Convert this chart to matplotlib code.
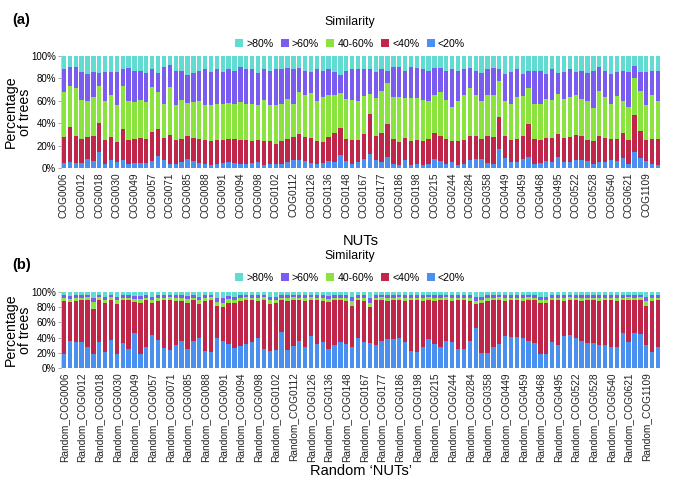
import numpy as np
import matplotlib
matplotlib.use("Agg")
import matplotlib.pyplot as plt

plt.rcParams["font.family"] = ["Liberation Sans", "DejaVu Sans"]

# ------------------------------------------------------------
# Data (cumulative % of trees below each similarity bound)
# ------------------------------------------------------------
nut_labels = ["COG0006", "COG0012", "COG0018", "COG0030", "COG0049", "COG0057",
              "COG0071", "COG0085", "COG0088", "COG0091", "COG0094", "COG0098",
              "COG0102", "COG0112", "COG0126", "COG0136", "COG0148", "COG0167",
              "COG0177", "COG0186", "COG0198", "COG0215", "COG0244", "COG0284",
              "COG0358", "COG0449", "COG0459", "COG0468", "COG0495", "COG0522",
              "COG0528", "COG0540", "COG0621", "COG1109"]
random_labels = ["Random_" + n for n in nut_labels]

legend_labels = [">80%", ">60%", "40-60%", "<40%", "<20%"]

# panel (a): NUTs
a_lt20 = [4.5, 5.4, 4.5, 4.8, 7.7, 6.5, 14, 4, 7, 5.4, 7, 4, 4.5, 4.5, 4.5, 6, 10.7, 7, 4, 4,
          5.4, 7.7, 6, 4.5, 4, 3, 4, 4.5, 5.4, 4.5, 4, 4, 4.5, 5.4, 3, 4, 4, 4, 5.4, 7,
          7, 6, 4.5, 4, 4.5, 6, 5.4, 12, 6, 4, 5, 7.7, 12.8, 7, 5.4, 9.8, 4, 3, 7, 3,
          4, 3, 4, 7.7, 6, 4, 5.4, 3, 4, 7, 7.7, 7.7, 4.8, 4, 17, 9, 5.4, 5.4, 7.7, 9.8,
          4, 4.8, 6, 5.4, 9.8, 5.4, 5.4, 7, 7, 6, 4, 5.4, 5.4, 7, 6, 9, 4, 14.3, 9, 6,
          4, 3]
a_lt40 = [28, 36.5, 29, 25.6, 27.7, 28.6, 40, 24.7, 27.7, 23, 34.5, 24.7, 25.6, 26.8, 25.6, 32, 35, 26.8, 29.8, 24.7,
          26, 28.6, 26.8, 25.6, 24.7, 24, 24.7, 24.7, 25.6, 25.6, 24.7, 24.7, 24, 24.7, 24, 24, 21.7, 24, 26, 27.7,
          30.7, 27.7, 26.8, 24, 23, 27.7, 31, 36, 25.6, 24.7, 25, 30.7, 48.5, 28.6, 31.5, 39.6, 25.6, 23, 26.8, 24,
          24.7, 24, 25.6, 31.5, 29, 25.6, 24, 24, 24.7, 28.6, 29, 25.6, 29, 27.7, 45.5, 28.6, 24.7, 25.6, 29, 39.6,
          25.6, 24.7, 26.8, 26.8, 30.7, 26.8, 27.7, 29.8, 29, 24.7, 24, 29, 26.8, 26, 26, 31.5, 24.7, 47.6, 32.7, 24.7,
          25.6, 25.6]
a_lt60 = [68, 73, 71, 61, 60, 63, 73, 60, 65, 56, 73, 59.5, 59, 60.5, 59, 72, 68, 57, 72, 56,
          60.5, 58, 59, 59.5, 56, 56.5, 57.4, 57.4, 58, 57.4, 59, 57.4, 57.4, 56.5, 60.5, 56.5, 56.5, 57.4, 62, 57.4,
          68, 65.5, 67, 59.5, 63, 65, 65.5, 67, 62, 61, 60, 64, 66, 62.5, 68.5, 76, 63, 63, 62.5, 62.5,
          62.5, 61, 59.5, 65.5, 68, 61, 54.5, 59.5, 65, 71.4, 65.5, 59.5, 65.5, 65.5, 77.4, 59.5, 57.4, 63, 64, 71.4,
          57.4, 57.4, 62, 61, 66, 62, 63, 65.5, 62, 59.5, 53.6, 69, 63, 57.4, 64, 59.5, 54.5, 80, 68.5, 56.5,
          65.5, 59.5]
a_lt80 = [88, 90, 90, 86, 84, 86, 85, 86, 86, 86, 88.7, 89, 87, 87, 85, 88.7, 85, 90, 92, 87,
          87, 83, 85, 87, 88.7, 86, 88, 86, 88, 87, 90, 88.7, 88, 85, 88, 87, 88, 88.7, 89, 88,
          89, 87, 86, 88, 87, 88, 86, 83, 87, 88, 88, 88, 88, 86, 88, 87, 90, 90, 87, 90,
          89, 88, 87, 89, 89, 87, 88.7, 87, 88, 89, 87, 85, 88, 89, 88, 84, 86, 88, 84, 87,
          87, 87, 84, 88, 85, 86, 88, 86, 87, 85, 87, 90, 87, 84, 86, 87, 86, 91, 85.7, 85.7,
          87, 87]

# panel (b): random 'NUTs'
b_lt20 = [19, 35, 34, 34, 28, 19, 34, 21, 37, 18, 33, 25, 46, 18, 27, 44, 37, 26, 24, 30,
          36, 25, 36, 39, 23, 21, 39, 35, 32, 26, 29, 31, 34, 40, 25, 22, 24, 48, 24, 29,
          35, 27, 42, 31, 34, 25, 30, 34, 32, 27, 40, 34, 33, 30, 35, 38, 38, 39, 34, 22,
          21, 28, 38, 32, 27, 36, 34, 25, 25, 36, 52, 20, 20, 28, 32, 42, 41, 41, 40, 36,
          33, 18, 18, 34, 30, 42, 44, 40, 35, 33, 33, 30, 30, 28, 28, 46, 34, 46, 45, 30,
          21, 27]
b_lt40 = [88, 87, 88, 89, 89, 77, 89, 85, 90, 84, 89, 89, 87, 86, 89, 85, 88, 89, 89, 88,
          88, 86, 89, 84, 88, 89, 82, 80, 86, 85, 88, 89, 89, 88, 89, 84, 85, 89, 88, 89,
          89, 88, 89, 89, 88, 87, 89, 89, 88, 82, 89, 88, 80, 89, 89, 88, 89, 89, 88, 89,
          89, 88, 89, 88, 89, 89, 88, 89, 89, 88, 84, 85, 88, 89, 89, 88, 89, 89, 88, 89,
          89, 86, 86, 89, 89, 88, 89, 89, 88, 89, 89, 88, 89, 89, 88, 89, 89, 89, 90, 82,
          88, 89]
b_lt60 = [92, 91, 92, 92, 93, 87, 93, 90, 93, 89, 92, 92, 91, 91, 92, 90, 92, 92, 93, 92,
          92, 91, 92, 89, 92, 93, 87, 86, 91, 90, 92, 93, 92, 92, 93, 89, 90, 92, 92, 93,
          92, 92, 93, 92, 92, 91, 92, 92, 92, 88, 92, 92, 86, 92, 93, 92, 92, 93, 92, 92,
          92, 92, 93, 92, 92, 93, 92, 92, 92, 92, 88, 89, 92, 92, 93, 92, 92, 92, 92, 93,
          92, 90, 90, 92, 92, 92, 93, 92, 92, 92, 92, 92, 92, 92, 92, 92, 93, 92, 93, 88,
          92, 92]
b_lt80 = [96, 95, 96, 96, 96, 92, 96, 94, 96, 94, 96, 96, 95, 95, 96, 94, 96, 96, 96, 96,
          96, 95, 96, 94, 96, 96, 92, 92, 95, 94, 96, 96, 96, 96, 96, 94, 94, 96, 96, 96,
          96, 96, 96, 96, 96, 95, 96, 96, 96, 93, 96, 96, 92, 96, 96, 96, 96, 96, 96, 96,
          96, 96, 96, 96, 96, 96, 96, 96, 96, 96, 93, 94, 96, 96, 96, 96, 96, 96, 96, 96,
          96, 94, 94, 96, 96, 96, 96, 96, 96, 96, 96, 96, 96, 96, 96, 96, 96, 96, 96, 93,
          96, 96]

# bottom -> top colours: <20, <40, 40-60, >60, >80
colors = ["#4a90f0", "#c0254a", "#8ae33e", "#7a5cf0", "#62dcd3"]

# ------------------------------------------------------------
# Figure layout (positions in pixels of a 685x498 canvas)
# ------------------------------------------------------------
W, H = 685, 498
fig = plt.figure(figsize=(W / 100, H / 100), dpi=100, facecolor="white")
axA = fig.add_axes([61 / W, 1 - 168 / H, 600 / W, 112 / H])
axB = fig.add_axes([61 / W, 1 - 368 / H, 600 / W, 76 / H])


def draw_panel(ax, cums, tick_names, xlabel, tag, xlab_py, tag_py, leg_py, ylab_py):
    x = np.arange(len(cums[0]))
    levels = [np.zeros(len(x))] + [np.asarray(c, float) for c in cums] + [np.full(len(x), 100.0)]
    bars = []
    for i in range(5):
        b = ax.bar(x, levels[i + 1] - levels[i], bottom=levels[i], width=0.74,
                   color=colors[i], edgecolor="none", linewidth=0)
        bars.append(b)
    ax.set_xlim(-0.5, len(x) - 0.5)
    ax.set_ylim(0, 100)
    ax.set_yticks([0, 20, 40, 60, 80, 100])
    ax.set_yticklabels(["0%", "20%", "40%", "60%", "80%", "100%"], fontsize=7)
    ax.set_xticks(x[::3])
    ax.set_xticklabels(tick_names, rotation=90, fontsize=7.3, color="#222222")
    ax.tick_params(axis="x", length=0, pad=3)
    ax.tick_params(axis="y", length=2, width=0.5, color="#888888", pad=1.5)
    for s in ["top", "right", "bottom"]:
        ax.spines[s].set_visible(False)
    ax.spines["left"].set_color("#bbbbbb")
    ax.spines["left"].set_linewidth(0.5)
    # y label placed by hand so that it stays inside the canvas
    fig.text(18 / W, 1 - ylab_py / H, "Percentage\nof trees", rotation=90,
             ha="center", va="center", fontsize=10.2, linespacing=0.95)
    fig.text(361 / W, 1 - xlab_py / H, xlabel, ha="center", va="center", fontsize=10.5)
    fig.text(12 / W, 1 - tag_py / H, tag, fontsize=10.5, fontweight="bold",
             ha="left", va="center")
    # legend, top category first
    handles = [bars[4], bars[3], bars[2], bars[1], bars[0]]
    leg = ax.legend(handles, legend_labels, title="Similarity", ncol=5,
                    loc="lower center", bbox_to_anchor=(350 / W, 1 - leg_py / H),
                    bbox_transform=fig.transFigure, frameon=False,
                    fontsize=7.6, title_fontsize=8.8, handlelength=0.75,
                    handleheight=0.75, handletextpad=0.3, columnspacing=0.7,
                    borderaxespad=0, borderpad=0)
    leg._legend_box.sep = 8


draw_panel(axA, [a_lt20, a_lt40, a_lt60, a_lt80], nut_labels, "NUTs",
           "(a)", 241, 20, 49, 112)
draw_panel(axB, [b_lt20, b_lt40, b_lt60, b_lt80], random_labels,
           "Random \u2018NUTs\u2019", "(b)", 471, 265, 283, 330)

fig.savefig("out.png", dpi=100, facecolor="white")
